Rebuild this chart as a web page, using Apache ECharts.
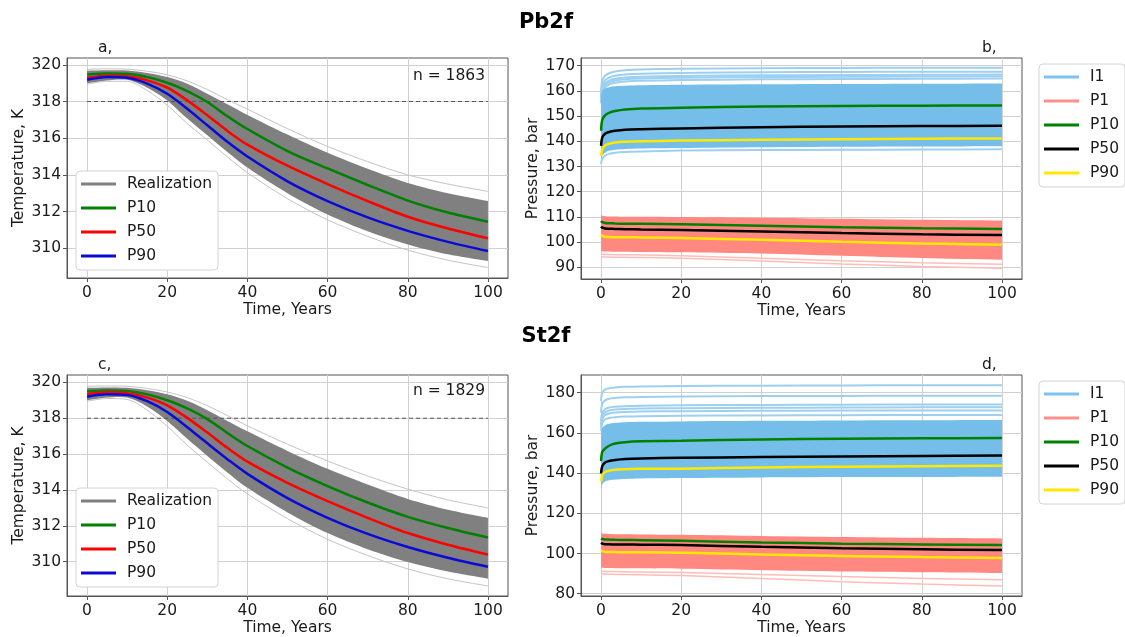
<!DOCTYPE html>
<html>
<head>
<meta charset="utf-8">
<script src="https://cdn.jsdelivr.net/npm/echarts@6/dist/echarts.min.js"></script>
<style>
html,body{margin:0;padding:0;background:#fff;}
#chart{width:1125px;height:637px;}
</style>
</head>
<body>
<div id="chart"></div>
<script>
// ---------- DATA ----------
const timeTicks = [0, 20, 40, 60, 80, 100];
const tempTicks = [310, 312, 314, 316, 318, 320];
const presTicksB = [90, 100, 110, 120, 130, 140, 150, 160, 170];
const presTicksD = [80, 100, 120, 140, 160, 180];
const thresholdT = 318;
const countA = 1863;
const countC = 1829;

// temperature time axis (years)
const tT = [0, 5, 10, 15, 20, 25, 30, 35, 40, 50, 60, 70, 80, 90, 100];
// panel a (Pb2f temperature)
const a_P10 = [319.47, 319.53, 319.51, 319.33, 319.02, 318.57, 317.97, 317.20, 316.50, 315.30, 314.35, 313.45, 312.60, 311.95, 311.45];
const a_P50 = [319.29, 319.40, 319.37, 319.15, 318.75, 318.06, 317.25, 316.40, 315.65, 314.50, 313.50, 312.57, 311.72, 311.08, 310.55];
const a_P90 = [319.18, 319.33, 319.29, 318.97, 318.42, 317.60, 316.70, 315.80, 315.00, 313.65, 312.57, 311.68, 310.95, 310.35, 309.85];
const a_hi = [319.68, 319.70, 319.69, 319.55, 319.33, 318.97, 318.42, 317.85, 317.27, 316.20, 315.20, 314.33, 313.56, 313.00, 312.57];
const a_lo = [319.00, 319.15, 319.18, 318.75, 318.06, 317.07, 316.16, 315.25, 314.40, 313.00, 311.84, 310.93, 310.21, 309.67, 309.30];
const a_faintHi = [319.75, 319.78, 319.76, 319.65, 319.45, 319.12, 318.65, 318.10, 317.58, 316.52, 315.55, 314.72, 314.00, 313.50, 313.10];
const a_faintLo = [318.95, 319.10, 319.10, 318.60, 317.80, 316.80, 315.90, 314.98, 314.12, 312.70, 311.55, 310.65, 309.90, 309.35, 308.95];
// panel c (St2f temperature)
const c_P10 = [319.50, 319.55, 319.52, 319.33, 319.00, 318.55, 317.95, 317.18, 316.45, 315.25, 314.22, 313.30, 312.50, 311.88, 311.35];
const c_P50 = [319.35, 319.45, 319.40, 319.15, 318.72, 318.02, 317.20, 316.35, 315.58, 314.40, 313.38, 312.45, 311.60, 310.95, 310.40];
const c_P90 = [319.20, 319.33, 319.30, 318.95, 318.35, 317.50, 316.60, 315.72, 314.90, 313.55, 312.45, 311.55, 310.82, 310.22, 309.72];
const c_hi = [319.70, 319.72, 319.70, 319.56, 319.33, 318.97, 318.45, 317.85, 317.27, 316.18, 315.18, 314.30, 313.50, 312.90, 312.45];
const c_lo = [319.00, 319.15, 319.15, 318.65, 317.85, 316.85, 315.90, 314.98, 314.12, 312.75, 311.60, 310.70, 309.98, 309.45, 309.05];
const c_faintHi = [319.78, 319.80, 319.78, 319.66, 319.46, 319.15, 318.70, 318.15, 317.58, 316.55, 315.62, 314.78, 314.05, 313.45, 313.00];
const c_faintLo = [318.95, 319.10, 319.05, 318.45, 317.55, 316.50, 315.55, 314.62, 313.78, 312.40, 311.25, 310.35, 309.60, 309.05, 308.65];

// pressure time axis (years)
const tP = [0, 0.3, 1, 2, 3.5, 6, 10, 20, 40, 60, 80, 100];
// panel b (Pb2f pressure) - injector I1
const b_I1_P10 = [144.2, 148.5, 150.3, 151.3, 152.0, 152.6, 153.0, 153.3, 153.8, 154.0, 154.15, 154.25];
const b_I1_P50 = [138.2, 141.5, 143.0, 143.7, 144.2, 144.6, 144.8, 145.1, 145.6, 145.9, 146.05, 146.2];
const b_I1_P90 = [134.2, 136.8, 138.3, 139.0, 139.5, 139.8, 140.0, 140.3, 140.6, 140.85, 141.0, 141.15];
const b_I1_hi = [157.5, 160.0, 161.0, 161.5, 161.8, 162.0, 162.2, 162.4, 162.6, 162.7, 162.8, 162.9];
const b_I1_lo = [132.5, 134.3, 135.5, 136.2, 136.6, 136.9, 137.1, 137.3, 137.6, 137.8, 137.9, 138.0];
const b_I1_l1 = [160.0, 164.0, 166.0, 167.0, 167.7, 168.2, 168.5, 168.8, 169.0, 169.1, 169.2, 169.2];
const b_I1_l2 = [158.0, 162.0, 164.2, 165.3, 166.0, 166.5, 166.8, 167.1, 167.4, 167.5, 167.6, 167.6];
const b_I1_l3 = [157.0, 161.0, 163.0, 164.1, 164.8, 165.3, 165.6, 165.9, 166.2, 166.3, 166.4, 166.5];
const b_I1_l4 = [156.0, 160.0, 162.3, 163.4, 164.1, 164.6, 164.9, 165.2, 165.5, 165.6, 165.7, 165.8];
const b_I1_l5 = [155.0, 159.2, 161.4, 162.5, 163.2, 163.7, 164.0, 164.3, 164.6, 164.7, 164.8, 164.9];
const b_I1_l6 = [131.0, 133.0, 134.3, 135.0, 135.5, 135.8, 136.0, 136.3, 136.5, 136.6, 136.7, 136.8];
// panel b - producer P1
const b_P1_P10 = [108.4, 107.9, 107.6, 107.5, 107.4, 107.3, 107.25, 107.1, 106.5, 105.9, 105.5, 105.2];
const b_P1_P50 = [106.2, 105.7, 105.4, 105.3, 105.2, 105.1, 105.0, 104.8, 104.2, 103.6, 103.1, 102.8];
const b_P1_P90 = [102.9, 102.4, 102.1, 102.0, 101.95, 101.9, 101.85, 101.6, 100.9, 100.1, 99.45, 98.95];
const b_P1_hi = [110.8, 110.5, 110.3, 110.2, 110.2, 110.1, 110.1, 110.0, 109.7, 109.3, 108.9, 108.6];
const b_P1_lo = [96.5, 96.4, 96.3, 96.3, 96.2, 96.2, 96.1, 96.0, 95.5, 94.6, 93.7, 93.0];
const b_P1_l1 = [94.3, 94.2, 94.1, 94.1, 94.0, 94.0, 93.9, 93.6, 92.5, 91.3, 90.3, 89.6];
const b_P1_l2 = [95.3, 95.2, 95.1, 95.1, 95.0, 95.0, 94.9, 94.6, 93.6, 92.6, 91.8, 91.2];

// panel d (St2f pressure) - injector I1
const d_I1_P10 = [146.0, 150.5, 152.2, 153.6, 154.7, 155.4, 155.8, 156.1, 156.7, 157.1, 157.3, 157.5];
const d_I1_P50 = [139.8, 143.5, 145.3, 146.0, 146.5, 147.0, 147.3, 147.6, 148.0, 148.3, 148.5, 148.7];
const d_I1_P90 = [135.7, 138.8, 140.5, 141.2, 141.7, 141.9, 142.1, 142.2, 142.8, 143.2, 143.4, 143.6];
const d_I1_hi = [160.0, 162.5, 163.8, 164.5, 165.0, 165.3, 165.5, 165.7, 166.0, 166.2, 166.3, 166.4];
const d_I1_lo = [132.0, 134.5, 135.8, 136.4, 136.8, 137.1, 137.3, 137.5, 137.8, 138.0, 138.1, 138.2];
const d_I1_l1 = [176.0, 180.0, 181.5, 182.2, 182.6, 182.9, 183.1, 183.3, 183.5, 183.6, 183.7, 183.7];
const d_I1_l2 = [170.0, 174.5, 176.2, 177.0, 177.4, 177.7, 177.9, 178.1, 178.3, 178.4, 178.5, 178.5];
const d_I1_l3 = [166.0, 170.0, 171.8, 172.6, 173.0, 173.3, 173.5, 173.7, 173.9, 174.0, 174.1, 174.1];
const d_I1_l4 = [164.0, 168.3, 170.2, 171.1, 171.6, 171.9, 172.1, 172.3, 172.5, 172.6, 172.7, 172.7];
const d_I1_l5 = [163.0, 167.0, 168.8, 169.6, 170.1, 170.4, 170.6, 170.8, 171.0, 171.1, 171.2, 171.2];
const d_I1_l6 = [161.0, 165.0, 166.7, 167.4, 167.8, 168.1, 168.3, 168.5, 168.7, 168.8, 168.9, 168.9];
// panel d - producer P1
const d_P1_P10 = [107.5, 107.2, 107.0, 106.9, 106.8, 106.7, 106.6, 106.3, 105.5, 104.9, 104.5, 104.2];
const d_P1_P50 = [105.3, 104.9, 104.6, 104.55, 104.5, 104.45, 104.4, 104.2, 103.3, 102.6, 102.1, 101.7];
const d_P1_P90 = [101.7, 101.2, 100.8, 100.75, 100.7, 100.65, 100.6, 100.4, 99.5, 98.8, 98.2, 97.7];
const d_P1_hi = [110.3, 110.0, 109.8, 109.7, 109.6, 109.6, 109.5, 109.3, 108.7, 108.2, 107.8, 107.5];
const d_P1_lo = [93.0, 92.9, 92.8, 92.8, 92.7, 92.7, 92.6, 92.4, 91.7, 91.1, 90.7, 90.3];
const d_P1_l1 = [90.0, 89.9, 89.8, 89.7, 89.6, 89.5, 89.4, 89.0, 87.6, 86.0, 84.8, 83.8];
const d_P1_l2 = [91.3, 91.2, 91.1, 91.0, 91.0, 90.9, 90.8, 90.5, 89.5, 88.5, 87.6, 86.9];

// ---------- STYLE ----------
const FONT = 'DejaVu Sans';
const FS = 15.5;
const TXT = '#1a1a1a';
const SPINE = '#555';
const GRIDC = '#d0d0d0';
const C = {
  gray: '#808080', faintGray: '#c4c4c4',
  green: '#008000', red: '#ff0000', blue: '#0a0ad8', black: '#000000', yellow: '#ffe800',
  sky: '#75bee9', skyFaint: '#9dd0f0', skyLegend: '#7cc3ee',
  salmon: '#ff8880', salmonFaint: '#ffbdb8', salmonLegend: '#ff8f8a'
};

function pairs(t, v) { return t.map((x, i) => [x, v[i]]); }

function lineS(name, ax, t, v, color, width, z, opacity) {
  return {
    name: name, type: 'line', xAxisIndex: ax, yAxisIndex: ax,
    data: pairs(t, v), symbol: 'none', smooth: 0.3,
    color: color, lineStyle: { color: color, width: width, opacity: opacity == null ? 1 : opacity },
    z: z, silent: true, animation: false
  };
}

// filled band between two read envelopes, positioned through the axes' scales (api.coord)
function bandS(name, ax, t, lo, hi, color) {
  return {
    name: name, type: 'custom', xAxisIndex: ax, yAxisIndex: ax, color: color,
    data: t.map((x, i) => [x, lo[i], hi[i]]),
    encode: { x: 0, y: [1, 2] },
    renderItem: function (params, api) {
      if (params.dataIndex !== 0) return null;
      const top = [], bot = [];
      for (let i = 0; i < t.length; i++) {
        top.push(api.coord([t[i], hi[i]]));
        bot.push(api.coord([t[i], lo[i]]));
      }
      bot.reverse();
      // corners doubled so the smoothed outline keeps straight ends
      const pts = [top[0]].concat(top, [top[top.length - 1], bot[0]], bot, [bot[bot.length - 1]]);
      let x0 = Infinity, y0 = Infinity, x1 = -Infinity, y1 = -Infinity;
      pts.forEach(p => { x0 = Math.min(x0, p[0]); y0 = Math.min(y0, p[1]); x1 = Math.max(x1, p[0]); y1 = Math.max(y1, p[1]); });
      return {
        type: 'polygon',
        shape: { points: pts, smooth: 0.3, smoothConstraint: [[x0, y0], [x1, y1]] },
        style: { fill: color }
      };
    },
    z: 2, silent: true, animation: false
  };
}

const grids = [
  { left: 67, top: 58, width: 441, height: 220 },
  { left: 581, top: 58, width: 441, height: 221 },
  { left: 67, top: 375, width: 441, height: 221 },
  { left: 581, top: 375, width: 441, height: 221 }
].map(g => Object.assign(g, { show: true, borderColor: SPINE, borderWidth: 1, backgroundColor: 'transparent', containLabel: false, outerBoundsMode: 'none' }));

function xAx(i) {
  return {
    type: 'value', gridIndex: i, min: -5, max: 105,
    name: 'Time, Years', nameLocation: 'middle', nameGap: 23,
    nameTextStyle: { fontFamily: FONT, fontSize: FS, color: TXT },
    axisLine: { show: true, onZero: false, lineStyle: { color: SPINE, width: 1 } },
    axisTick: { show: true, inside: false, length: 4, customValues: timeTicks, lineStyle: { color: SPINE } },
    axisLabel: { customValues: timeTicks, fontFamily: FONT, fontSize: FS, color: TXT, margin: 7 },
    splitLine: { show: true, lineStyle: { color: GRIDC, width: 1 } }
  };
}
function yAx(i, min, max, ticks, name) {
  return {
    type: 'value', gridIndex: i, min: min, max: max,
    name: name, nameLocation: 'middle', nameGap: 40,
    nameTextStyle: { fontFamily: FONT, fontSize: FS, color: TXT },
    axisLine: { show: true, onZero: false, lineStyle: { color: SPINE, width: 1 } },
    axisTick: { show: true, inside: false, length: 4, customValues: ticks, lineStyle: { color: SPINE } },
    axisLabel: { customValues: ticks, fontFamily: FONT, fontSize: FS, color: TXT, margin: 6 },
    splitLine: { show: true, lineStyle: { color: GRIDC, width: 1 } }
  };
}

function tempPanel(ax, P10, P50, P90, hi, lo, fHi, fLo) {
  return [
    lineS('faint_hi_' + ax, ax, tT, fHi, C.faintGray, 1, 1),
    lineS('faint_lo_' + ax, ax, tT, fLo, C.faintGray, 1, 1),
    bandS('Realization', ax, tT, lo, hi, C.gray),
    {
      name: 'thr_' + ax, type: 'line', xAxisIndex: ax, yAxisIndex: ax,
      data: [[0, thresholdT], [100, thresholdT]], symbol: 'none',
      lineStyle: { color: '#555', width: 1, type: [4, 3] }, z: 3, silent: true, animation: false
    },
    lineS('P10', ax, tT, P10, C.green, 2.5, 5),
    lineS('P50', ax, tT, P50, C.red, 2.5, 5),
    lineS('P90', ax, tT, P90, C.blue, 2.5, 5)
  ];
}

function presPanel(ax, I, P) {
  return [].concat(
    I.lines.map((v, k) => lineS('I1_line_' + ax + '_' + k, ax, tP, v, C.skyFaint, 2, 1)),
    [bandS('I1', ax, tP, I.lo, I.hi, C.sky)],
    P.lines.map((v, k) => lineS('P1_line_' + ax + '_' + k, ax, tP, v, C.salmonFaint, 1.5, 1)),
    [bandS('P1', ax, tP, P.lo, P.hi, C.salmon),
    lineS('P10', ax, tP, I.P10, C.green, 2.5, 5),
    lineS('P50', ax, tP, I.P50, C.black, 2.5, 5),
    lineS('P90', ax, tP, I.P90, C.yellow, 2.5, 5),
    lineS('P10', ax, tP, P.P10, C.green, 2.5, 5),
    lineS('P50', ax, tP, P.P50, C.black, 2.5, 5),
    lineS('P90', ax, tP, P.P90, C.yellow, 2.5, 5)]
  );
}

const series = [].concat(
  tempPanel(0, a_P10, a_P50, a_P90, a_hi, a_lo, a_faintHi, a_faintLo),
  presPanel(1,
    { P10: b_I1_P10, P50: b_I1_P50, P90: b_I1_P90, hi: b_I1_hi, lo: b_I1_lo, lines: [b_I1_l1, b_I1_l2, b_I1_l3, b_I1_l4, b_I1_l5, b_I1_l6] },
    { P10: b_P1_P10, P50: b_P1_P50, P90: b_P1_P90, hi: b_P1_hi, lo: b_P1_lo, lines: [b_P1_l1, b_P1_l2] }),
  tempPanel(2, c_P10, c_P50, c_P90, c_hi, c_lo, c_faintHi, c_faintLo),
  presPanel(3,
    { P10: d_I1_P10, P50: d_I1_P50, P90: d_I1_P90, hi: d_I1_hi, lo: d_I1_lo, lines: [d_I1_l1, d_I1_l2, d_I1_l3, d_I1_l4, d_I1_l5, d_I1_l6] },
    { P10: d_P1_P10, P50: d_P1_P50, P90: d_P1_P90, hi: d_P1_hi, lo: d_P1_lo, lines: [d_P1_l1, d_P1_l2] })
);

const legendBase = {
  orient: 'vertical', icon: 'rect', itemWidth: 35, itemHeight: 3, itemGap: 6,
  padding: [4, 6, 5, 5], backgroundColor: '#fff', borderColor: '#d4d4d4', borderWidth: 1, borderRadius: 4,
  selectedMode: false,
  textStyle: { fontFamily: FONT, fontSize: FS, color: TXT, lineHeight: 18, padding: [0, 0, 0, 6] }
};
const tempLegendData = [
  { name: 'Realization', itemStyle: { color: C.gray } },
  { name: 'P10', itemStyle: { color: C.green } },
  { name: 'P50', itemStyle: { color: C.red } },
  { name: 'P90', itemStyle: { color: C.blue } }
];
const presLegendData = [
  { name: 'I1', itemStyle: { color: C.skyLegend } },
  { name: 'P1', itemStyle: { color: C.salmonLegend } },
  { name: 'P10', itemStyle: { color: C.green } },
  { name: 'P50', itemStyle: { color: C.black } },
  { name: 'P90', itemStyle: { color: C.yellow } }
];

function txt(x, y, s, opts) {
  return {
    type: 'text', x: x, y: y, silent: true, z: 10,
    style: Object.assign({ text: s, fontFamily: FONT, fontSize: FS, fill: TXT, align: 'left', verticalAlign: 'middle' }, opts || {})
  };
}

const option = {
  animation: false,
  backgroundColor: '#ffffff',
  grid: grids,
  xAxis: [xAx(0), xAx(1), xAx(2), xAx(3)],
  yAxis: [
    yAx(0, 308.38, 320.37, tempTicks, 'Temperature, K'),
    yAx(1, 85.35, 173.06, presTicksB, 'Pressure, bar'),
    yAx(2, 308.09, 320.41, tempTicks, 'Temperature, K'),
    yAx(3, 78.85, 188.8, presTicksD, 'Pressure, bar')
  ],
  legend: [
    Object.assign({}, legendBase, { left: 76, top: 171, data: tempLegendData }),
    Object.assign({}, legendBase, { left: 1039, top: 64, data: presLegendData }),
    Object.assign({}, legendBase, { left: 76, top: 488, data: tempLegendData }),
    Object.assign({}, legendBase, { left: 1039, top: 381, data: presLegendData })
  ],
  graphic: [
    txt(546, 23, 'Pb2f', { fontSize: 21, fontWeight: 'bold', align: 'center', fill: '#000' }),
    txt(546, 337, 'St2f', { fontSize: 21, fontWeight: 'bold', align: 'center', fill: '#000' }),
    txt(98, 48, 'a,'),
    txt(982, 48, 'b,'),
    txt(98, 365, 'c,'),
    txt(982, 365, 'd,'),
    txt(485, 76, 'n = ' + countA, { align: 'right' }),
    txt(485, 391, 'n = ' + countC, { align: 'right' })
  ],
  series: series
};

const chart = echarts.init(document.getElementById('chart'), null, { renderer: 'canvas' });
chart.setOption(option);
</script>
</body>
</html>
